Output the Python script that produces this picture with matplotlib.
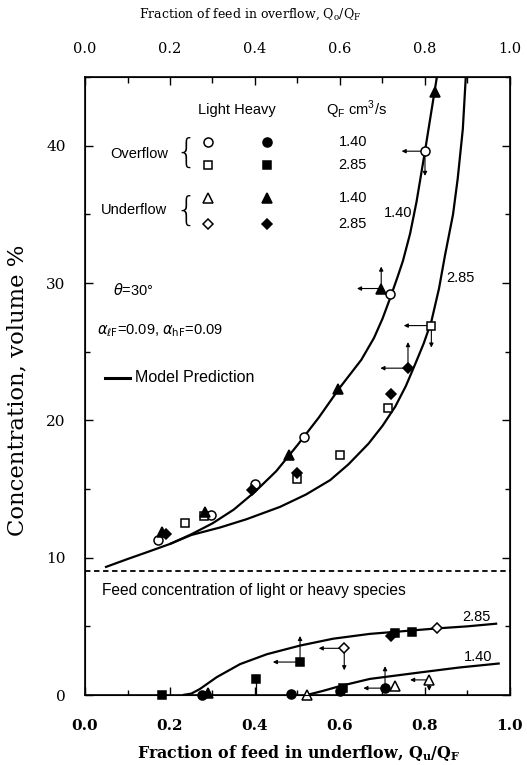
import matplotlib
matplotlib.use("Agg")
import matplotlib.pyplot as plt
from matplotlib.ticker import MultipleLocator

plt.rcParams["font.family"] = ["DejaVu Serif"]
plt.rcParams["mathtext.fontset"] = "dejavusans"
SANS = "Liberation Sans"

# model curves (x = flow fraction, y = volume %)
over_140_x = [0.047, 0.10, 0.146, 0.20, 0.25, 0.30, 0.35, 0.40, 0.45, 0.50,
              0.55, 0.60, 0.65, 0.68, 0.70, 0.718, 0.735, 0.748, 0.765, 0.78,
              0.80, 0.815, 0.828]
over_140_y = [9.3, 9.9, 10.4, 11.0, 11.7, 12.5, 13.5, 14.8, 16.3, 18.2,
              20.2, 22.4, 24.4, 26.0, 27.4, 28.9, 30.4, 31.6, 33.6, 35.9,
              39.6, 42.5, 45.0]
over_285_x = [0.20, 0.25, 0.318, 0.38, 0.459, 0.52, 0.577, 0.62, 0.667, 0.70,
              0.73, 0.755, 0.777, 0.797, 0.815, 0.833, 0.847, 0.866, 0.877,
              0.889, 0.896]
over_285_y = [11.0, 11.65, 12.2, 12.8, 13.7, 14.6, 15.65, 16.8, 18.3, 19.6,
              21.0, 22.5, 24.1, 25.6, 27.2, 29.6, 32.0, 35.0, 37.6,
              41.2, 45.0]
under_285_x = [0.23, 0.25, 0.27, 0.31, 0.365, 0.428, 0.506, 0.584, 0.67, 0.75,
               0.828, 0.90, 0.97]
under_285_y = [0.0, 0.1, 0.43, 1.3, 2.25, 2.97, 3.6, 4.1, 4.45, 4.65,
               4.85, 5.0, 5.2]
under_140_x = [0.522, 0.56, 0.60, 0.67, 0.79, 0.88, 0.976]
under_140_y = [0.0, 0.3, 0.65, 1.17, 1.65, 2.0, 2.3]

# measured points
light_over_140_x = [0.172, 0.297, 0.40, 0.516, 0.718, 0.80]        # open circle
light_over_140_y = [11.3, 13.1, 15.4, 18.8, 29.2, 39.6]
light_over_285_x = [0.236, 0.28, 0.498, 0.60, 0.714, 0.815]         # open square
light_over_285_y = [12.5, 13.0, 15.7, 17.5, 20.9, 26.9]
heavy_under_140_x = [0.18, 0.283, 0.479, 0.596, 0.697, 0.823, 0.29]  # filled triangle
heavy_under_140_y = [11.9, 13.3, 17.5, 22.3, 29.6, 43.9, 0.15]
heavy_under_285_x = [0.19, 0.392, 0.498, 0.72, 0.76, 0.72]           # filled diamond
heavy_under_285_y = [11.7, 14.9, 16.2, 21.9, 23.8, 4.3]
heavy_over_140_x = [0.275, 0.484, 0.60, 0.706]                       # filled circle
heavy_over_140_y = [0.0, 0.1, 0.3, 0.5]
heavy_over_285_x = [0.18, 0.402, 0.506, 0.607, 0.73, 0.77]           # filled square
heavy_over_285_y = [0.0, 1.2, 2.4, 0.5, 4.5, 4.6]
light_under_140_x = [0.522, 0.73, 0.81]                              # open triangle
light_under_140_y = [0.0, 0.65, 1.1]
light_under_285_x = [0.61, 0.828]                                    # open diamond
light_under_285_y = [3.4, 4.85]

# arrows (from point to tip)
arrows = [(0.80, 39.6, 0.745, 39.6), (0.80, 39.6, 0.80, 37.8),
          (0.697, 29.6, 0.64, 29.6), (0.697, 29.6, 0.697, 31.2),
          (0.815, 26.9, 0.75, 26.9), (0.815, 26.9, 0.815, 25.3),
          (0.76, 23.8, 0.695, 23.8), (0.76, 23.8, 0.76, 25.7),
          (0.506, 2.4, 0.442, 2.4), (0.506, 2.4, 0.506, 4.3),
          (0.61, 3.4, 0.55, 3.4), (0.61, 3.4, 0.61, 1.8),
          (0.706, 0.5, 0.655, 0.5), (0.706, 0.5, 0.706, 2.1),
          (0.81, 1.1, 0.765, 1.1), (0.81, 1.1, 0.81, 0.3)]
feed_conc = 9.0
tick_vals = [0.0, 0.2, 0.4, 0.6, 0.8, 1.0]
tick_text = ["0.0", "0.2", "0.4", "0.6", "0.8", "1.0"]

fig = plt.figure(figsize=(5.27, 7.65), dpi=100)
ax = fig.add_axes([0.1613, 0.0915, 0.8064, 0.8078])
ax.set_xlim(0, 1)
ax.set_ylim(0, 45)

lw = 1.6
for xs, ys in ((over_140_x, over_140_y), (over_285_x, over_285_y),
               (under_285_x, under_285_y), (under_140_x, under_140_y)):
    ax.plot(xs, ys, color="k", lw=lw, solid_capstyle="butt",
            solid_joinstyle="round", zorder=2)

ax.axhline(feed_conc, color="k", lw=1.3, ls=(0, (3, 2)), zorder=2)

for x0, y0, x1, y1 in arrows:
    ax.annotate("", xy=(x1, y1), xytext=(x0, y0),
                arrowprops=dict(arrowstyle="-|>", lw=0.8, color="k",
                                shrinkA=0, shrinkB=0, mutation_scale=6),
                zorder=3)
ax.plot([0.402, 0.402], [0.0, 1.2], color="k", lw=0.9, zorder=3)

mk = dict(ls="none", mec="k", mew=1.1, clip_on=False, zorder=4)
ax.plot(light_over_140_x, light_over_140_y, "o", ms=6.5, mfc="white", **mk)
ax.plot(light_over_285_x, light_over_285_y, "s", ms=6.0, mfc="white", **mk)
ax.plot(heavy_under_140_x, heavy_under_140_y, "^", ms=7.0, mfc="k", **mk)
ax.plot(heavy_under_285_x, heavy_under_285_y, "D", ms=5.5, mfc="k", **mk)
ax.plot(heavy_over_140_x, heavy_over_140_y, "o", ms=6.5, mfc="k", **mk)
ax.plot(heavy_over_285_x, heavy_over_285_y, "s", ms=6.0, mfc="k", **mk)
ax.plot(light_under_140_x, light_under_140_y, "^", ms=7.0, mfc="white", **mk)
ax.plot(light_under_285_x, light_under_285_y, "D", ms=5.5, mfc="white", **mk)

# legend block drawn by hand, as in the original
fs = 10.5
ax.text(0.357, 42.6, "Light Heavy", family=SANS, fontsize=fs, ha="center", va="center")
ax.text(0.638, 42.6, r"Q$_\mathregular{F}$ cm$^\mathregular{3}$/s", family=SANS,
        fontsize=fs, ha="center", va="center")
rows = [(40.3, "o", "1.40"), (38.6, "s", "2.85"), (36.2, "^", "1.40"), (34.3, "D", "2.85")]
for yy, m, lab in rows:
    ms = {"o": 6.5, "s": 6.0, "^": 7.0, "D": 5.5}[m]
    ax.plot([0.29], [yy], m, ms=ms, mfc="white", **mk)
    ax.plot([0.428], [yy], m, ms=ms, mfc="k", **mk)
    ax.text(0.63, yy, lab, family=SANS, fontsize=fs, ha="center", va="center")
ax.text(0.128, 39.4, "Overflow", family=SANS, fontsize=fs, ha="center", va="center")
ax.text(0.115, 35.3, "Underflow", family=SANS, fontsize=fs, ha="center", va="center")
for yb in (39.45, 35.25):
    ax.text(0.238, yb, "{", family="DejaVu Sans", fontsize=24, fontweight="light",
            ha="center", va="center")
ax.text(0.737, 35.1, "1.40", family=SANS, fontsize=fs, ha="center", va="center")
ax.text(0.883, 30.4, "2.85", family=SANS, fontsize=fs, ha="center", va="center")
ax.text(0.92, 5.7, "2.85", family=SANS, fontsize=fs, ha="center", va="center")
ax.text(0.925, 2.75, "1.40", family=SANS, fontsize=fs, ha="center", va="center")

ax.text(0.066, 29.5, r"$\theta$=30°", family=SANS, fontsize=10.5, ha="left", va="center")
ax.text(0.028, 26.5, r"$\alpha_{\ell\mathrm{F}}$=0.09, $\alpha_{\mathrm{hF}}$=0.09",
        family=SANS, fontsize=10.5, ha="left", va="center")
ax.plot([0.047, 0.106], [23.1, 23.1], color="k", lw=2.2)
ax.text(0.118, 23.1, "Model Prediction", family=SANS, fontsize=11.5, ha="left", va="center")
ax.text(0.04, 7.6, "Feed concentration of light or heavy species", family=SANS,
        fontsize=11.2, ha="left", va="center")

# axes styling
for sp in ax.spines.values():
    sp.set_linewidth(1.2)
ax.xaxis.set_major_locator(MultipleLocator(0.2))
ax.xaxis.set_minor_locator(MultipleLocator(0.1))
ax.yaxis.set_major_locator(MultipleLocator(10))
ax.yaxis.set_minor_locator(MultipleLocator(5))
ax.tick_params(which="both", direction="in", right=True, top=False)
ax.tick_params(which="major", length=6, width=1.0)
ax.tick_params(which="minor", length=3.5, width=1.0)
ax.tick_params(axis="x", pad=17, labelsize=11)
ax.tick_params(axis="y", pad=14, labelsize=11)
ax.set_xticks(tick_vals)
ax.set_xticklabels(tick_text, fontweight="bold")

top = ax.twiny()
top.set_xlim(0, 1)
top.xaxis.set_major_locator(MultipleLocator(0.2))
top.xaxis.set_minor_locator(MultipleLocator(0.1))
top.tick_params(which="both", direction="in", length=4, width=1.0, pad=15, labelsize=10.5)
top.tick_params(which="major", length=6)
top.set_xticks(tick_vals)
top.set_xticklabels(tick_text)

fig.text(0.566, 0.003, r"Fraction of feed in underflow, Q$_\mathregular{u}$/Q$_\mathregular{F}$",
         fontsize=11.4, fontweight="bold", ha="center", va="bottom")
fig.text(0.475, 0.992, r"Fraction of feed in overflow, Q$_\mathregular{o}$/Q$_\mathregular{F}$",
         fontsize=9, ha="center", va="top")
fig.text(0.034, 0.49, "Concentration, volume %", fontsize=16.4, rotation=90,
         ha="center", va="center")

fig.savefig("out.png", dpi=100)
